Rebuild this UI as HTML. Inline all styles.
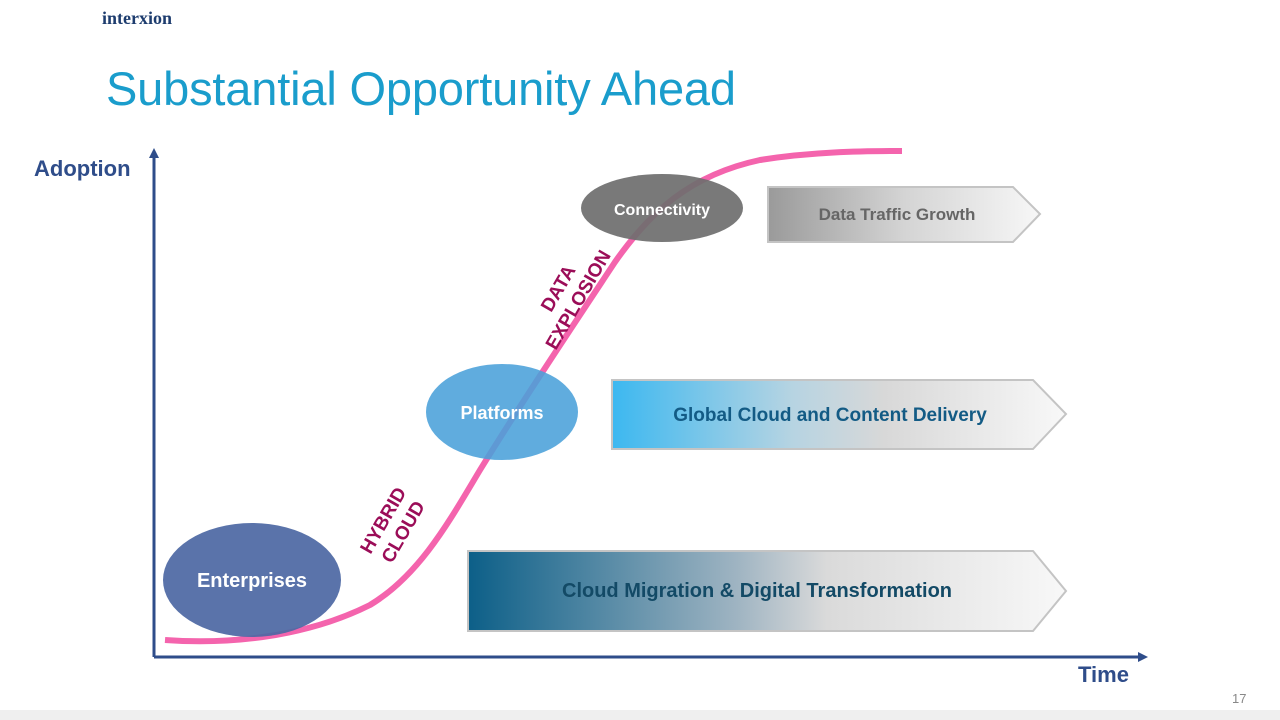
<!DOCTYPE html>
<html><head><meta charset="utf-8"><style>
html,body{margin:0;padding:0;background:#fff}
body{width:1280px;height:720px;overflow:hidden;position:relative;font-family:"Liberation Sans",Arial,sans-serif}
</style></head><body>
<svg width="1280" height="720" viewBox="0 0 1280 720" xmlns="http://www.w3.org/2000/svg" style="position:absolute;left:0;top:0">
<defs>
<linearGradient id="g1" x1="0" x2="1" y1="0" y2="0"><stop offset="0" stop-color="#9a9a9a"/><stop offset="0.5" stop-color="#d4d4d4"/><stop offset="1" stop-color="#f7f7f7"/></linearGradient>
<linearGradient id="g2" x1="0" x2="1" y1="0" y2="0"><stop offset="0" stop-color="#3cb8f0"/><stop offset="0.4" stop-color="#b7d4e2"/><stop offset="0.6" stop-color="#d8d8d8"/><stop offset="1" stop-color="#f8f8f8"/></linearGradient>
<linearGradient id="g3" x1="0" x2="1" y1="0" y2="0"><stop offset="0" stop-color="#0c5f88"/><stop offset="0.45" stop-color="#9fb4c2"/><stop offset="0.6" stop-color="#dadada"/><stop offset="1" stop-color="#f8f8f8"/></linearGradient>
</defs>
<rect x="0" y="710" width="1280" height="10" fill="#efefef"/>
<text x="102" y="24" font-family="Liberation Serif,serif" font-weight="bold" font-size="18" fill="#1d3c6e">interxion</text>
<text x="106" y="105" font-size="47" fill="#1a9dcc" textLength="630">Substantial Opportunity Ahead</text>
<text x="34" y="176" font-size="22" font-weight="bold" fill="#2f4d8a">Adoption</text>
<text x="1078" y="682" font-size="22" font-weight="bold" fill="#2f4d8a">Time</text>
<text x="1232" y="703" font-size="13" fill="#888">17</text>
<line x1="154" y1="657" x2="154" y2="156" stroke="#2f4d8a" stroke-width="3"/>
<polygon points="154,148 149,158 159,158" fill="#2f4d8a"/>
<line x1="154" y1="657" x2="1140" y2="657" stroke="#2f4d8a" stroke-width="3"/>
<polygon points="1148,657 1138,652 1138,662" fill="#2f4d8a"/>
<polygon points="768,187 1013,187 1040,214 1013,242 768,242" fill="url(#g1)" stroke="#c4c4c4" stroke-width="2"/>
<text x="897" y="220" text-anchor="middle" font-size="17" font-weight="bold" fill="#666">Data Traffic Growth</text>
<polygon points="612,380 1033,380 1066,414 1033,449 612,449" fill="url(#g2)" stroke="#c4c4c4" stroke-width="2"/>
<text x="830" y="421" text-anchor="middle" font-size="19" font-weight="bold" fill="#135b85">Global Cloud and Content Delivery</text>
<polygon points="468,551 1033,551 1066,591 1033,631 468,631" fill="url(#g3)" stroke="#c4c4c4" stroke-width="2"/>
<text x="757" y="597" text-anchor="middle" font-size="20" font-weight="bold" fill="#134a66">Cloud Migration &amp; Digital Transformation</text>
<path d="M165,640 C220,644 300,640 370,605 C420,575 450,520 480,470 C520,405 570,330 615,262 C650,212 690,175 760,160 C810,152 860,151 902,151" fill="none" stroke="#f464ad" stroke-width="6"/>
<ellipse cx="252" cy="580" rx="89" ry="57" fill="#4e68a4" fill-opacity="0.93"/>
<text x="252" y="587" text-anchor="middle" font-size="20" font-weight="bold" fill="#fff">Enterprises</text>
<ellipse cx="502" cy="412" rx="76" ry="48" fill="#4aa0da" fill-opacity="0.88"/>
<text x="502" y="419" text-anchor="middle" font-size="18" font-weight="bold" fill="#fff">Platforms</text>
<ellipse cx="662" cy="208" rx="81" ry="34" fill="#6e6e6e" fill-opacity="0.92"/>
<text x="662" y="215" text-anchor="middle" font-size="16" font-weight="bold" fill="#fff">Connectivity</text>
<g transform="translate(393,526) rotate(-60)" font-size="19" font-weight="bold" fill="#9b0d58" text-anchor="middle">
<text x="0" y="-5">HYBRID</text><text x="0" y="18">CLOUD</text></g>
<g transform="translate(568,294) rotate(-60)" font-size="19" font-weight="bold" fill="#9b0d58" text-anchor="middle">
<text x="0" y="-5">DATA</text><text x="0" y="18">EXPLOSION</text></g>
</svg>
</body></html>
